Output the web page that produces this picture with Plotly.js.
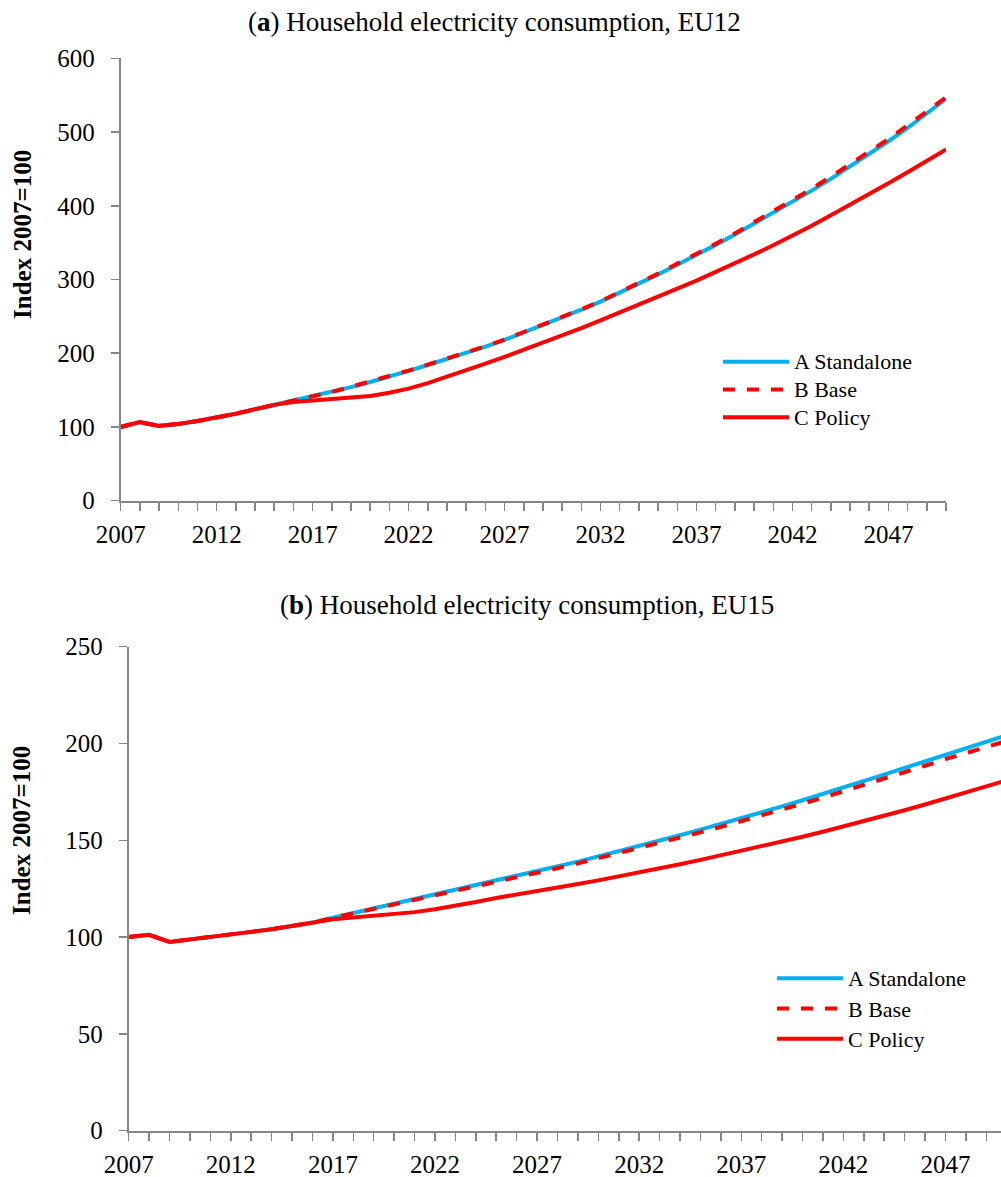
<!DOCTYPE html>
<html>
<head>
<meta charset="utf-8">
<script src="https://cdn.plot.ly/plotly-3.0.1.min.js"></script>
<style>
  html, body { margin: 0; padding: 0; background: #fff; }
  #chart { width: 1001px; height: 1177px; }
</style>
</head>
<body>
<div id="chart"></div>
<script>
// ---------- data ----------
const years = [2007,2008,2009,2010,2011,2012,2013,2014,2015,2016,
               2017,2018,2019,2020,2021,2022,2023,2024,2025,2026,
               2027,2028,2029,2030,2031,2032,2033,2034,2035,2036,
               2037,2038,2039,2040,2041,2042,2043,2044,2045,2046,
               2047,2048,2049,2050];

const labeledYears = ['2007','2012','2017','2022','2027','2032','2037','2042','2047'];

const seriesNames = ['A Standalone', 'B Base', 'C Policy'];

// (a) EU12
const eu12Standalone = [100,106.5,101.5,104,108,112.5,118,124,130,135,
                        141,147,154,161,168,176,184,192,200,209,
                        218,228,238,248.5,259,270,282,294.5,307,320,
                        333,347,361,375.5,390,405,420.5,436.5,453,470,
                        487.5,505.5,524.5,545];
const eu12Base = [100,106.5,101.5,104,108,112.5,118,124,130,135,
                  141,147.5,154.5,161.5,168.5,176.5,184.5,192.5,200.5,209.5,
                  218.5,228.5,238.5,249,259.5,270.5,282.5,295.5,308,321.5,
                  334.5,348.5,362.5,377.5,392,407.5,423,439.5,456,473,
                  490.5,509,527.5,547];
const eu12Policy = [100,106.5,101.5,104,108,112.5,118,124,130,134,
                    136,137.5,139.5,142,146.5,152,159.5,168,177,186,
                    195,204.5,214,224,234,244.5,255,265.5,276.5,287.5,
                    298.5,310,322,334,346.5,359.5,373,387,401,415.5,
                    430.5,445.5,461,476.5];

// (b) EU15
const eu15Standalone = [100,101.2,97.5,98.7,100,101.3,102.7,104.1,105.6,107.5,
                        110,112.4,114.8,117.2,119.6,121.9,124.2,126.6,129,131.5,
                        134,136.5,139,141.7,144.3,147,149.8,152.6,155.5,158.4,
                        161.4,164.4,167.5,170.7,173.9,177.2,180.5,183.9,187.4,190.8,
                        194.3,197.5,200.8,204.2];
const eu15Base = [100,101.2,97.5,98.7,100,101.3,102.7,104.1,105.6,107.5,
                  109.9,112.2,114.5,116.9,119.2,121.5,123.7,126,128.4,130.8,
                  133.2,135.6,138.1,140.7,143.2,145.8,148.5,151.3,154.1,156.9,
                  159.8,162.8,165.8,168.9,172,175.2,178.4,181.7,185.1,188.5,
                  191.9,195,198.1,201.3];
const eu15Policy = [100,101.2,97.5,98.7,100,101.3,102.7,104.1,105.6,107.4,
                    109.2,110,110.8,111.7,112.9,114.4,116.1,118.1,120.2,121.9,
                    123.7,125.5,127.4,129.3,131.3,133.3,135.4,137.6,139.9,142.2,
                    144.5,146.9,149.3,151.8,154.4,157.1,159.8,162.6,165.5,168.5,
                    171.5,174.6,177.8,181];

const eu12Ticks = [0,100,200,300,400,500,600];
const eu15Ticks = [0,50,100,150,200,250];

const titleA = '(<b>a</b>) Household electricity consumption, EU12';
const titleB = '(<b>b</b>) Household electricity consumption, EU15';
const yTitle = 'Index 2007=100';

// ---------- styling ----------
const FONT = 'Liberation Serif, Times New Roman, serif';
const BLUE = '#00B0F0';
const RED = '#FF0000';
const AXIS = '#868686';
const LW = 4;

const tickText = years.map(y => labeledYears.includes(String(y)) ? String(y) : '');
const legendName = n => '<span style="font-size:22px">' + n + '</span>';

function mk(x, y, name, color, dash, xa, ya, legend) {
  return {
    type: 'scatter', mode: 'lines', x: x, y: y, name: legendName(name),
    xaxis: xa, yaxis: ya, legend: legend,
    line: {color: color, width: LW, dash: dash},
    hoverinfo: 'skip'
  };
}

const traces = [
  mk(years, eu12Standalone, seriesNames[0], BLUE, 'solid', 'x', 'y', 'legend'),
  mk(years, eu12Base, seriesNames[1], RED, 'dash', 'x', 'y', 'legend'),
  mk(years, eu12Policy, seriesNames[2], RED, 'solid', 'x', 'y', 'legend'),
  mk(years, eu15Standalone, seriesNames[0], BLUE, 'solid', 'x2', 'y2', 'legend2'),
  mk(years, eu15Base, seriesNames[1], RED, 'dash', 'x2', 'y2', 'legend2'),
  mk(years, eu15Policy, seriesNames[2], RED, 'solid', 'x2', 'y2', 'legend2')
];

function xAxis(domain, range, anchor) {
  return {
    domain: domain, range: range, anchor: anchor,
    tickmode: 'array', tickvals: years, ticktext: tickText,
    ticks: 'outside', ticklen: 8, tickwidth: 1.5, tickcolor: AXIS,
    showline: true, linecolor: AXIS, linewidth: 2,
    showgrid: false, zeroline: false,
    ticklabelstandoff: 2,
    tickfont: {family: FONT, size: 25, color: '#000'},
    fixedrange: true
  };
}
function yAxis(domain, range, ticks, anchor) {
  return {
    domain: domain, range: range, anchor: anchor,
    tickmode: 'array', tickvals: ticks, ticktext: ticks.map(String),
    ticks: 'outside', ticklen: 8, tickwidth: 1.5, tickcolor: AXIS,
    showline: true, linecolor: AXIS, linewidth: 2,
    showgrid: false, zeroline: false,
    ticklabelstandoff: 11,
    tickfont: {family: FONT, size: 25, color: '#000'},
    fixedrange: true
  };
}

const W = 1001, H = 1177;
const px = v => v / W;
const py = v => (H - v) / H;

const layout = {
  width: W, height: H,
  margin: {l: 0, r: 0, t: 0, b: 0, pad: 0},
  paper_bgcolor: '#fff', plot_bgcolor: '#fff',
  showlegend: true,
  hovermode: false,
  xaxis: xAxis([px(120.7), px(946)], [2007, 2050], 'y'),
  yaxis: yAxis([py(500.7), py(58.3)], [0, 600], eu12Ticks, 'x'),
  xaxis2: xAxis([px(128.7), 1], [2007, 2049.72], 'y2'),
  yaxis2: yAxis([py(1130.7), py(646.7)], [0, 250], eu15Ticks, 'x2'),
  legend: {
    x: px(718), y: py(343), xanchor: 'left', yanchor: 'top',
    bgcolor: 'rgba(0,0,0,0)', borderwidth: 0,
    itemwidth: 66, traceorder: 'normal',
    font: {family: FONT, size: 19, color: '#000'}
  },
  legend2: {
    x: px(772), y: py(958), xanchor: 'left', yanchor: 'top',
    bgcolor: 'rgba(0,0,0,0)', borderwidth: 0,
    itemwidth: 66, traceorder: 'normal',
    font: {family: FONT, size: 21, color: '#000'}
  },
  annotations: [
    {text: titleA, x: px(494.5), y: py(22), xref: 'paper', yref: 'paper',
     xanchor: 'center', yanchor: 'middle', showarrow: false,
     font: {family: FONT, size: 27, color: '#000'}},
    {text: titleB, x: px(526.5), y: py(605), xref: 'paper', yref: 'paper',
     xanchor: 'center', yanchor: 'middle', showarrow: false,
     font: {family: FONT, size: 27, color: '#000'}},
    {text: '<b>' + yTitle + '</b>', x: px(22), y: py(235), xref: 'paper', yref: 'paper',
     xanchor: 'center', yanchor: 'middle', textangle: -90, showarrow: false,
     font: {family: FONT, size: 25, color: '#000'}},
    {text: '<b>' + yTitle + '</b>', x: px(22), y: py(831), xref: 'paper', yref: 'paper',
     xanchor: 'center', yanchor: 'middle', textangle: -90, showarrow: false,
     font: {family: FONT, size: 25, color: '#000'}}
  ]
};

Plotly.newPlot('chart', traces, layout, {displayModeBar: false, staticPlot: true});
</script>
</body>
</html>
